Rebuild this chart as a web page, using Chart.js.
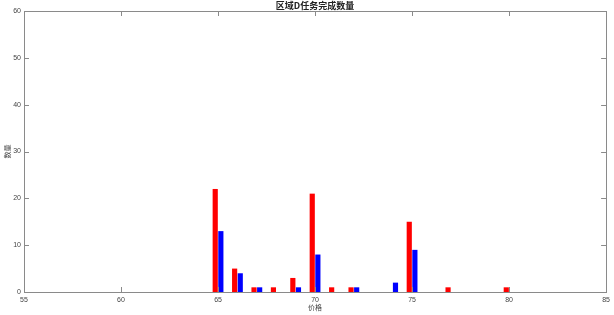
<!DOCTYPE html>
<html>
<head>
<meta charset="utf-8">
<script src="https://cdn.jsdelivr.net/npm/chart.js@4"></script>
<style>
  body { margin: 0; background: #fff; }
  #box { width: 614px; height: 315px; }
</style>
</head>
<body>
<div id="box"><canvas id="myChart"></canvas></div>
<script>
// price points and counts per group
const prices = [65, 66, 67, 68, 69, 70, 71, 72, 74, 75, 77, 80];
const redCounts = [22, 5, 1, 1, 3, 21, 1, 1, 0, 15, 1, 1];
const blueCounts = [13, 4, 1, 0, 1, 8, 0, 1, 2, 9, 0, 0];
const xTicks = [55, 60, 65, 70, 75, 80, 85];
const yTicks = [0, 10, 20, 30, 40, 50, 60];
const chartTitle = '区域D任务完成数量';

const axisColor = '#8a8a8a';
const textColor = '#444';
const font = "'Liberation Sans', 'Noto Sans CJK SC', sans-serif";
const cjkFont = "'Noto Sans CJK SC', sans-serif";

function toPoints(vals) {
    return prices.map(function (p, i) { return { x: p, y: vals[i] }; });
}

// MATLAB style box with inward ticks, title centred over the axes
const boxTicks = {
    id: 'boxTicks',
    afterDraw: function (chart) {
        const ctx = chart.ctx;
        const a = chart.chartArea;
        const xs = chart.scales.x, ys = chart.scales.y;
        const len = 5;
        ctx.save();
        ctx.strokeStyle = axisColor;
        ctx.lineWidth = 1;
        ctx.strokeRect(Math.round(a.left) + 0.5, Math.round(a.top) + 0.5,
            Math.round(a.right - a.left), Math.round(a.bottom - a.top));
        ctx.beginPath();
        xTicks.forEach(function (v) {
            const px = Math.round(xs.getPixelForValue(v)) + 0.5;
            ctx.moveTo(px, a.bottom); ctx.lineTo(px, a.bottom - len);
            ctx.moveTo(px, a.top); ctx.lineTo(px, a.top + len);
        });
        yTicks.forEach(function (v) {
            const py = Math.round(ys.getPixelForValue(v)) + 0.5;
            ctx.moveTo(a.left, py); ctx.lineTo(a.left + len, py);
            ctx.moveTo(a.right, py); ctx.lineTo(a.right - len, py);
        });
        ctx.stroke();

        ctx.fillStyle = '#222';
        ctx.font = 'bold 9px ' + cjkFont;
        ctx.textAlign = 'center';
        ctx.textBaseline = 'middle';
        ctx.fillText(chartTitle, (a.left + a.right) / 2, 6);
        ctx.restore();
    }
};

const data = {
    datasets: [
        {
            label: '红',
            data: toPoints(redCounts),
            backgroundColor: '#ff0000',
            borderWidth: 0
        },
        {
            label: '蓝',
            data: toPoints(blueCounts),
            backgroundColor: '#0000ff',
            borderWidth: 0
        }
    ]
};

const config = {
    type: 'bar',
    data: data,
    options: {
        responsive: true,
        maintainAspectRatio: false,
        animation: false,
        categoryPercentage: 0.58,
        barPercentage: 0.92,
        layout: { padding: { top: 11, right: 7, left: 0, bottom: 0 } },
        plugins: {
            legend: { display: false },
            tooltip: { enabled: false },
            title: { display: false }
        },
        scales: {
            x: {
                type: 'linear',
                offset: false,
                min: 55,
                max: 85,
                grid: { display: false, drawTicks: false },
                border: { display: false },
                ticks: {
                    stepSize: 5,
                    color: textColor,
                    font: { family: font, size: 7 },
                    padding: 4,
                    maxRotation: 0
                },
                title: {
                    display: true,
                    text: '价格',
                    color: textColor,
                    font: { family: cjkFont, size: 7 },
                    padding: { top: 0, bottom: 3 }
                },
                afterFit: function (s) { s.height = 23; }
            },
            y: {
                min: 0,
                max: 60,
                grid: { display: false, drawTicks: false },
                border: { display: false },
                ticks: {
                    stepSize: 10,
                    color: textColor,
                    font: { family: font, size: 7 },
                    padding: 3
                },
                title: {
                    display: true,
                    text: '数量',
                    color: textColor,
                    font: { family: cjkFont, size: 7 },
                    padding: { top: 3, bottom: 0 }
                },
                afterFit: function (s) { s.width = 24; }
            }
        }
    },
    plugins: [boxTicks]
};

var myChart = new Chart(document.getElementById('myChart'), config);
</script>
</body>
</html>
